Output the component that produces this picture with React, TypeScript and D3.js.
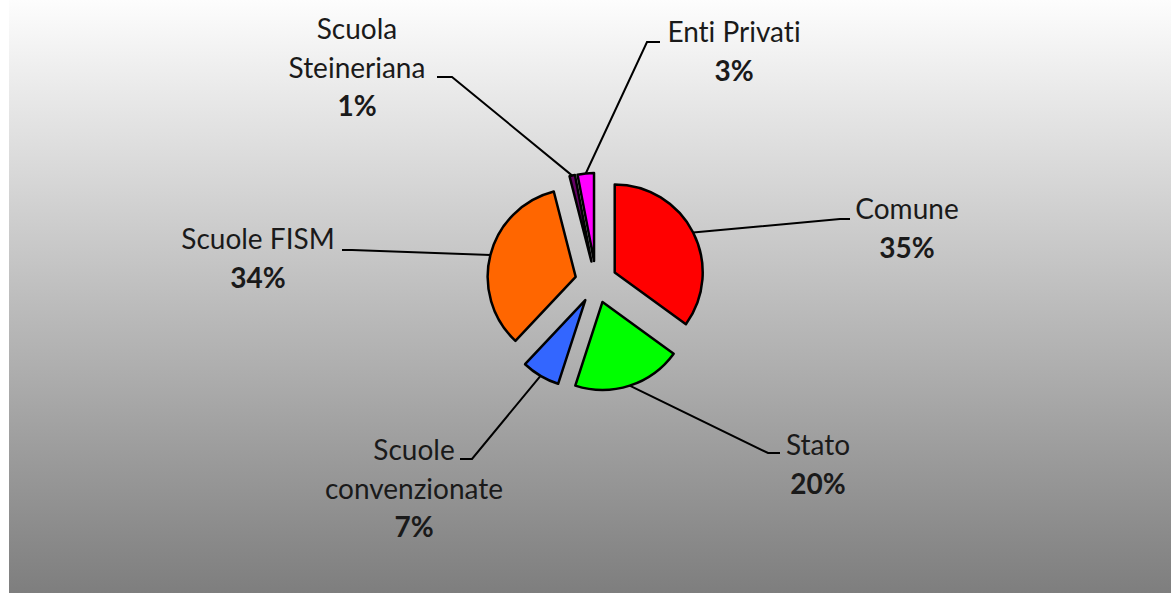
import * as d3 from "d3";
import React from "react";

const categories = [
  "Comune",
  "Stato",
  "Scuole convenzionate",
  "Scuole FISM",
  "Scuola Steineriana",
  "Enti Privati",
];
const values = [35, 20, 7, 34, 1, 3];
const labelLines = [
  ["Comune"],
  ["Stato"],
  ["Scuole", "convenzionate"],
  ["Scuole FISM"],
  ["Scuola", "Steineriana"],
  ["Enti Privati"],
];
const colours = ["#ff0000", "#00ff00", "#3366ff", "#ff6600", "#660066", "#ff00ff"];

// labels were placed by hand in the original, so keep their boxes here
const labelLayout = [
  { x: 907, y: 219, elbow: [840, 219], end: [850, 219] },
  { x: 818, y: 455, elbow: [768, 453], end: [780, 453] },
  { x: 414, y: 460, elbow: [472, 459], end: [460, 459] },
  { x: 258, y: 249, elbow: [352, 250], end: [342, 250] },
  { x: 357, y: 39, elbow: [452, 77], end: [437, 77] },
  { x: 734, y: 42, elbow: [647, 42], end: [660, 42] },
];

export default function App() {
  const w = 1171;
  const h = 593;
  const cx = 596;
  const cy = 282;
  const radius = 88;
  const explode = 21;
  const lineHeight = 38.5;

  const total = d3.sum(values);
  const pie = d3
    .pie<number>()
    .sort(null)
    .value((d) => d);
  const arcs = pie(values);
  const arc = d3.arc<d3.PieArcDatum<number>>().innerRadius(0).outerRadius(radius);

  return (
    <svg
      width={w}
      height={h}
      style={{ position: "absolute", left: 0, top: 0, fontVariantLigatures: "none" }}
      fontFamily="Lato, 'Open Sans', sans-serif"
    >
      <defs>
        <linearGradient id="bg" x1="0" y1="0" x2="0" y2="1">
          <stop offset="0%" stopColor="#fdfdfd" />
          <stop offset="100%" stopColor="#7e7e7e" />
        </linearGradient>
      </defs>
      <rect x={0} y={0} width={w} height={h} fill="#ffffff" />
      <rect x={9} y={0} width={w - 9} height={h} fill="url(#bg)" />

      {arcs.map((a, i) => {
        const mid = (a.startAngle + a.endAngle) / 2;
        const dx = Math.sin(mid);
        const dy = -Math.cos(mid);
        const ox = cx + dx * explode;
        const oy = cy + dy * explode;
        const edge = [ox + dx * radius, oy + dy * radius];
        const lay = labelLayout[i];
        const pct = Math.round((values[i] / total) * 100) + "%";
        const lines = labelLines[i];
        return (
          <g key={categories[i]}>
            <path
              d={arc(a) || ""}
              transform={`translate(${ox},${oy})`}
              fill={colours[i]}
              stroke="#000"
              strokeWidth={2.5}
              strokeLinejoin="round"
            />
            <polyline
              points={`${edge[0]},${edge[1]} ${lay.elbow[0]},${lay.elbow[1]} ${lay.end[0]},${lay.end[1]}`}
              fill="none"
              stroke="#000"
              strokeWidth={2}
            />
            <text textAnchor="middle" fontSize={28} fill="#1a1a1a">
              {lines.map((t, j) => (
                <tspan key={t} x={lay.x} y={lay.y + j * lineHeight}>
                  {t}
                </tspan>
              ))}
              <tspan x={lay.x} y={lay.y + lines.length * lineHeight} fontWeight="bold">
                {pct}
              </tspan>
            </text>
          </g>
        );
      })}
    </svg>
  );
}
